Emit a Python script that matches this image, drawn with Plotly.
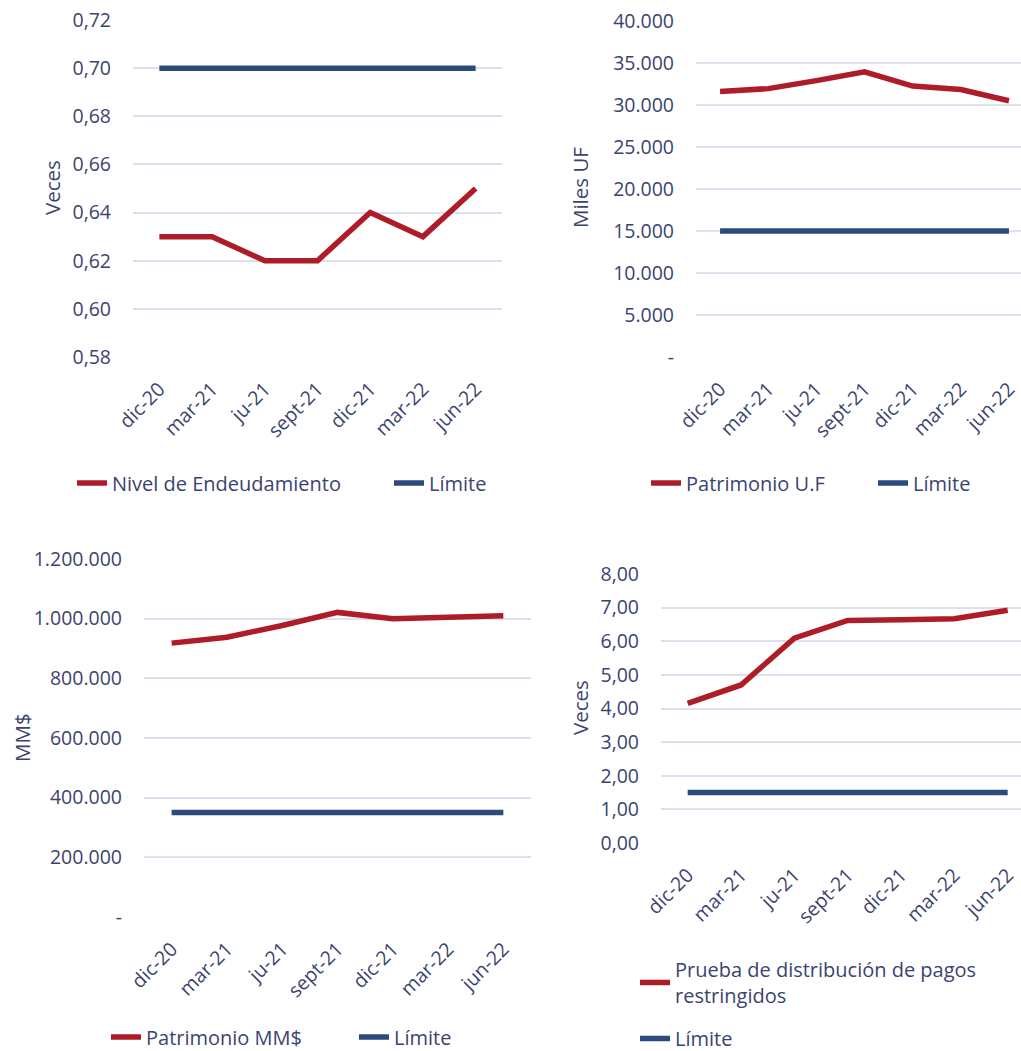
import plotly.graph_objects as go

W, H = 1021, 1051

# ---------------- data ----------------
categories = ["dic-20", "mar-21", "ju-21", "sept-21", "dic-21", "mar-22", "jun-22"]

endeudamiento = [0.63, 0.63, 0.62, 0.62, 0.64, 0.63, 0.65]
endeudamiento_limite = [0.70] * 7

patrimonio_uf = [31600, 31950, 32900, 33950, 32250, 31850, 30500]
patrimonio_uf_limite = [15000] * 7

patrimonio_mm = [918000, 938000, 977000, 1021000, 1000000, 1007000, 1010000]
patrimonio_mm_limite = [350000] * 7

pagos_restringidos = [4.15, 4.70, 6.09, 6.62, 6.64, 6.67, 6.92]
pagos_limite = [1.50] * 7

ticks_p1 = [0.58, 0.60, 0.62, 0.64, 0.66, 0.68, 0.70, 0.72]
ticks_p1_text = ["0,58", "0,60", "0,62", "0,64", "0,66", "0,68", "0,70", "0,72"]
ticks_p2 = [0, 5000, 10000, 15000, 20000, 25000, 30000, 35000, 40000]
ticks_p2_text = ["-", "5.000", "10.000", "15.000", "20.000", "25.000", "30.000", "35.000", "40.000"]
ticks_p3 = [0, 200000, 400000, 600000, 800000, 1000000, 1200000]
ticks_p3_text = ["-", "200.000", "400.000", "600.000", "800.000", "1.000.000", "1.200.000"]
ticks_p4 = [0, 1, 2, 3, 4, 5, 6, 7, 8]
ticks_p4_text = ["0,00", "1,00", "2,00", "3,00", "4,00", "5,00", "6,00", "7,00", "8,00"]

# ---------------- style ----------------
RED = "#AE1C28"
BLUE = "#2B4A7E"
TEXT = "#3B4470"
GRID = "#DCDFEE"
FONT = "Open Sans"
FS_TICK = 19.5
FS_LEG = 20
FS_TITLE = 20.5
LW = 5.5


def px_x(a, b):
    return [a / W, b / W]


def px_y(top, bottom):
    return [1 - bottom / H, 1 - top / H]


fig = go.Figure()

panels = [
    ("x", "y", "legend", endeudamiento, "Nivel de Endeudamiento", endeudamiento_limite,
     (133, 502), (20, 357), [-0.5, 6.5], [0.58, 0.72], ticks_p1, ticks_p1_text),
    ("x2", "y2", "legend2", patrimonio_uf, "Patrimonio U.F", patrimonio_uf_limite,
     (696, 1021), (21, 357), [-0.5, 6.25], [0, 40000], ticks_p2, ticks_p2_text),
    ("x3", "y3", "legend3", patrimonio_mm, "Patrimonio MM$", patrimonio_mm_limite,
     (144, 531), (559, 917), [-0.5, 6.5], [0, 1200000], ticks_p3, ticks_p3_text),
    ("x4", "y4", "legend4", pagos_restringidos, "Prueba de distribución de pagos<br>restringidos", pagos_limite,
     (661, 1021), (574, 843), [-0.5, 6.25], [0, 8], ticks_p4, ticks_p4_text),
]

layout = {}
for i, (xa, ya, lg, red, rname, lim, xd, yd, xr, yr, tv, tt) in enumerate(panels):
    fig.add_trace(go.Scatter(x=categories, y=red, name=rname, mode="lines",
                             line=dict(color=RED, width=LW), xaxis=xa, yaxis=ya,
                             legend=lg, legendgroup=f"r{i}", cliponaxis=False))
    fig.add_trace(go.Scatter(x=categories, y=lim, name="Límite", mode="lines",
                             line=dict(color=BLUE, width=LW), xaxis=xa, yaxis=ya,
                             legend=lg, legendgroup=f"b{i}", cliponaxis=False))
    xkey = "xaxis" if i == 0 else f"xaxis{i+1}"
    ykey = "yaxis" if i == 0 else f"yaxis{i+1}"
    layout[xkey] = dict(domain=px_x(*xd), anchor=ya, type="category", range=xr,
                        showgrid=False, zeroline=False, showline=False, ticks="",
                        tickangle=-45, ticklabelstandoff=16, automargin=False,
                        tickfont=dict(family=FONT, size=FS_TICK, color=TEXT), fixedrange=True)
    layout[ykey] = dict(domain=px_y(*yd), anchor=xa, range=yr, tickvals=tv, ticktext=tt,
                        showgrid=True, gridcolor=GRID, gridwidth=2, zeroline=False,
                        showline=False, ticks="", ticklabelstandoff=21, automargin=False,
                        tickfont=dict(family=FONT, size=FS_TICK, color=TEXT), fixedrange=True)

legend_common = dict(font=dict(family=FONT, size=FS_LEG, color=TEXT), bgcolor="rgba(0,0,0,0)",
                     borderwidth=0, xanchor="left", yanchor="middle", itemwidth=30)
layout["legend"] = dict(legend_common, orientation="h", x=72 / W, y=1 - 483 / H,
                        entrywidth=272)
layout["legend2"] = dict(legend_common, orientation="h", x=646 / W, y=1 - 483 / H,
                         entrywidth=182)
layout["legend3"] = dict(legend_common, orientation="h", x=106 / W, y=1 - 1037 / H,
                         entrywidth=203)
layout["legend4"] = dict(legend_common, orientation="v", x=635 / W, y=1 - 950 / H,
                         yanchor="top", tracegroupgap=14)

annos = []
for txt, xc, yc in [("Veces", 52, 188), ("Miles UF", 580, 188), ("MM$", 22, 738), ("Veces", 580, 708)]:
    annos.append(dict(text=txt, x=xc / W, y=1 - yc / H, xref="paper", yref="paper",
                      textangle=-90, showarrow=False, xanchor="center", yanchor="middle",
                      font=dict(family=FONT, size=FS_TITLE, color=TEXT)))

fig.update_layout(**layout)
fig.update_layout(width=W, height=H, margin=dict(l=0, r=0, t=0, b=0, autoexpand=False),
                  template="none",
                  paper_bgcolor="white", plot_bgcolor="white", annotations=annos,
                  showlegend=True, font=dict(family=FONT, color=TEXT))

fig.write_html("out.html", config={"displayModeBar": False},
               post_script="document.body.style.margin='0';document.body.style.overflow='hidden';")
